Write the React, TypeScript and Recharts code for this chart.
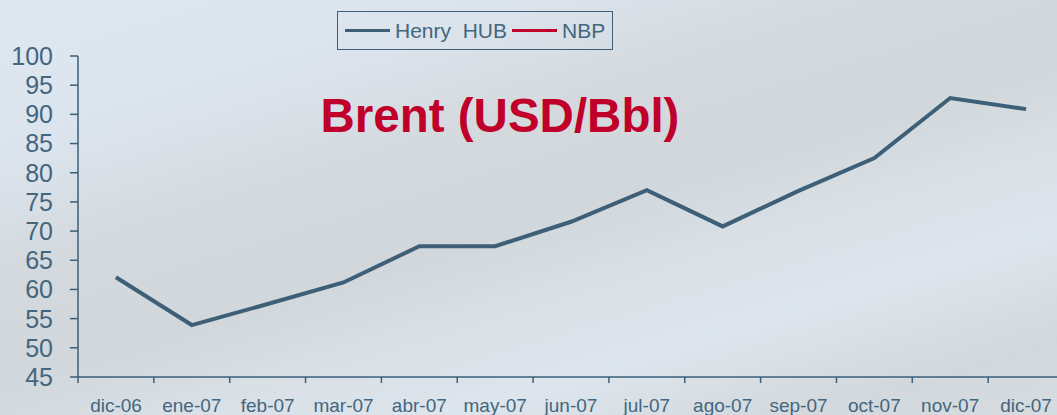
import React from "react";
import { LineChart, Line, XAxis, YAxis } from "recharts";

const months = ["dic-06", "ene-07", "feb-07", "mar-07", "abr-07", "may-07", "jun-07", "jul-07", "ago-07", "sep-07", "oct-07", "nov-07", "dic-07"];
const brent = [62.1, 53.9, 57.5, 61.2, 67.4, 67.4, 71.6, 77.0, 70.8, 76.9, 82.5, 92.8, 90.9];
const yTicks = [45, 50, 55, 60, 65, 70, 75, 80, 85, 90, 95, 100];
const boundaryTicks = [0, 1, 2, 3, 4, 5, 6, 7, 8, 9, 10, 11, 12, 13];
const legendLabels = ["Henry  HUB", "NBP"];
const legendColors = ["#3d5f78", "#c0002a"];
const title = "Brent (USD/Bbl)";

const data = months.map((m, i) => ({ month: m, pos: i + 0.5, brent: brent[i] }));

const SLATE = "#3d5f78";
const TEXT = "#436680";

const LegendBox = () => (
  <div
    style={{
      position: "absolute",
      left: 337,
      top: 11,
      display: "flex",
      alignItems: "center",
      border: `1.5px solid ${SLATE}`,
      height: 39,
      width: 276,
      boxSizing: "border-box",
      paddingLeft: 7,
      fontFamily: "Liberation Sans, Arial, sans-serif",
      fontSize: 21,
      color: TEXT,
      whiteSpace: "pre",
    }}
  >
    {legendLabels.map((l, i) => (
      <React.Fragment key={l}>
        <span style={{ display: "inline-block", width: 45, height: 3.5, background: legendColors[i], marginRight: 5 }} />
        <span style={{ marginRight: 5 }}>{l}</span>
      </React.Fragment>
    ))}
  </div>
);

export default function App() {
  return (
    <div
      style={{
        position: "absolute",
        left: 0,
        top: 0,
        width: 1057,
        height: 415,
        overflow: "hidden",
        background:
          "linear-gradient(163deg, #dfe7f0 0%, #dbe3ec 22%, #d3d9dd 38%, #d1d7da 52%, #d8dfe5 62%, #dde5ed 75%, #d2d8db 90%, #d6dce0 100%)",
        fontFamily: "Liberation Sans, Arial, sans-serif",
      }}
    >
      <div
        style={{
          position: "absolute",
          left: 0,
          width: 1000,
          top: 89,
          textAlign: "center",
          fontSize: 47.5,
          fontWeight: "bold",
          color: "#c0002a",
          lineHeight: "54px",
          whiteSpace: "pre",
        }}
      >
        {title}
      </div>
      <LegendBox />
      <LineChart width={1070} height={415} data={data} margin={{ top: 56, right: 6, bottom: 0, left: 0 }}>
        <XAxis
          xAxisId="bounds"
          dataKey="pos"
          type="number"
          domain={[0, 13]}
          ticks={boundaryTicks}
          interval={0}
          height={1}
          tickSize={6}
          tickFormatter={() => ""}
          stroke={SLATE}
          strokeWidth={1.5}
          allowDataOverflow
        />
        <XAxis
          xAxisId="labels"
          dataKey="month"
          height={37}
          interval={0}
          padding={{ left: 38, right: 38 }}
          tickLine={false}
          axisLine={false}
          tickSize={0}
          tickMargin={21}
          tick={{ fill: TEXT, fontSize: 19, fontFamily: "Liberation Sans, Arial, sans-serif" }}
        />
        <YAxis
          width={78}
          domain={[45, 100]}
          ticks={yTicks}
          interval={0}
          tickSize={8}
          tickMargin={17}
          stroke={SLATE}
          strokeWidth={1.5}
          tick={{ fill: TEXT, fontSize: 25, fontFamily: "Liberation Sans, Arial, sans-serif" }}
        />
        <Line
          xAxisId="bounds"
          type="linear"
          dataKey="brent"
          stroke={SLATE}
          strokeWidth={4}
          dot={false}
          activeDot={false}
          isAnimationActive={false}
        />
      </LineChart>
    </div>
  );
}
